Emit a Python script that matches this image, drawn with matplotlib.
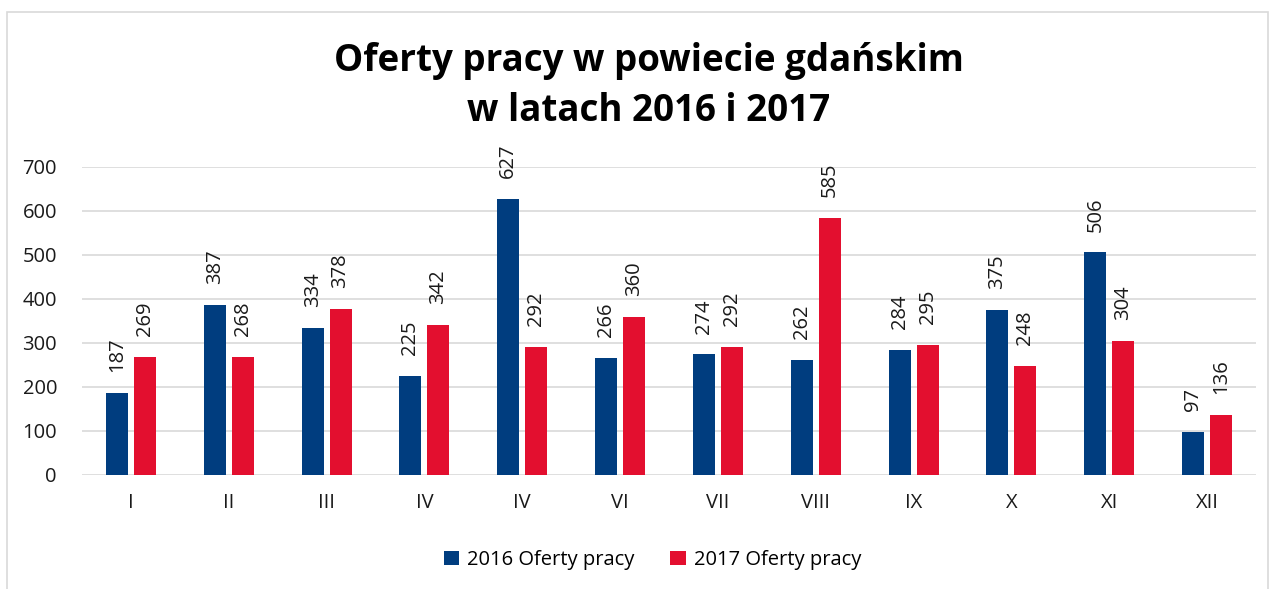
import matplotlib.pyplot as plt
import numpy as np
from matplotlib.patches import Rectangle

plt.rcParams['font.family'] = ['Open Sans', 'DejaVu Sans']

months = ['I', 'II', 'III', 'IV', 'IV', 'VI', 'VII', 'VIII', 'IX', 'X', 'XI', 'XII']
oferty_2016 = [187, 387, 334, 225, 627, 266, 274, 262, 284, 375, 506, 97]
oferty_2017 = [269, 268, 378, 342, 292, 360, 292, 585, 295, 248, 304, 136]
series_names = ['2016 Oferty pracy', '2017 Oferty pracy']

BLUE = '#003d7f'
RED = '#e30f2f'
FS = 14.5

fig = plt.figure(figsize=(12.79, 5.89), dpi=100)
fig.patches.append(Rectangle((7 / 1279, -0.05), 1261 / 1279, 1.05 - 12 / 589,
                             transform=fig.transFigure, fill=False,
                             edgecolor='#d9d9d9', linewidth=1.2))

ax = fig.add_axes([82 / 1279, 1 - 475 / 589, 1174 / 1279, 308 / 589])

x = np.arange(len(months))
w = 0.225
gap = 0.06
off = (w + gap) / 2
b1 = ax.bar(x - off, oferty_2016, w, color=BLUE, label=series_names[0], zorder=3)
b2 = ax.bar(x + off, oferty_2017, w, color=RED, label=series_names[1], zorder=3)

# value labels, rotated like in the original
for bars in (b1, b2):
    for rect in bars:
        h = rect.get_height()
        ax.annotate(f'{h:.0f}', (rect.get_x() + rect.get_width() / 2, h),
                    xytext=(0, 15), textcoords='offset points',
                    rotation=90, ha='center', va='bottom', fontsize=FS, color='#1a1a1a')

ax.set_xlim(-0.5, len(months) - 0.5)
ax.set_ylim(0, 700)
ax.set_yticks(range(0, 701, 100))
ax.set_xticks(x)
ax.set_xticklabels(months)
ax.yaxis.grid(True, color='#d9d9d9', linewidth=1.2, zorder=0)
ax.set_axisbelow(True)
for s in ax.spines.values():
    s.set_visible(False)
ax.tick_params(axis='both', length=0, labelsize=FS, colors='#1a1a1a')
ax.tick_params(axis='y', pad=18)
ax.tick_params(axis='x', pad=13)

fig.text(0.507, 1 - 86 / 589, 'Oferty pracy w powiecie gdańskim\nw latach 2016 i 2017',
         ha='center', va='center', fontsize=26.5, fontweight='bold',
         linespacing=1.4, color='#000000')

fig.legend(handles=[b1, b2], labels=series_names, loc='center',
           bbox_to_anchor=(0.51, 1 - 560 / 589), ncol=2, frameon=False,
           fontsize=FS, handlelength=0.75, handleheight=0.75,
           handletextpad=0.4, columnspacing=1.8)

fig.savefig('out.png', dpi=100)
